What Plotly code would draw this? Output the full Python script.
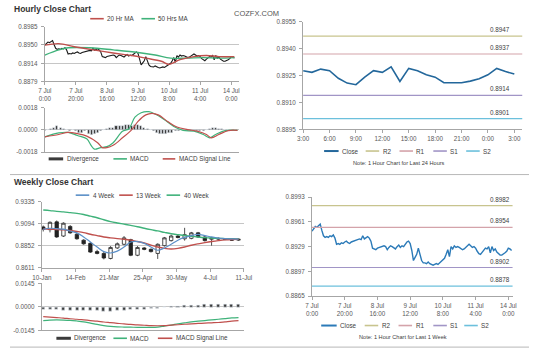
import plotly.graph_objects as go

W, H = 537, 355
FONT = "Liberation Sans, Arial, sans-serif"
TICKC = "#595959"

def px(x):
    return x / W

def py(y):
    return 1 - y / H

# ---------------- data ----------------
hour_ticks = [0, 20, 40, 60, 80, 100, 120]
hour_labels = ["7 Jul<br>0:00", "7 Jul<br>20:00", "8 Jul<br>16:00", "9 Jul<br>12:00",
               "10 Jul<br>8:00", "11 Jul<br>4:00", "14 Jul<br>0:00"]

week_close = [
    0.8949, 0.8952, 0.8955, 0.8954, 0.8956, 0.8958, 0.8950, 0.8943, 0.8941, 0.8942,
    0.8941, 0.8943, 0.8942, 0.8944, 0.8940, 0.8932, 0.8933, 0.8932, 0.8934, 0.8933,
    0.8935, 0.8936, 0.8934, 0.8933, 0.8935, 0.8936, 0.8937, 0.8937, 0.8938, 0.8939,
    0.8938, 0.8943, 0.8939, 0.8941, 0.8942, 0.8940, 0.8936, 0.8927, 0.8926, 0.8925,
    0.8927, 0.8928, 0.8929, 0.8929, 0.8930, 0.8929, 0.8925, 0.8928, 0.8930, 0.8929,
    0.8927, 0.8926, 0.8929, 0.8931, 0.8928, 0.8930, 0.8929, 0.8932, 0.8935, 0.8936,
    0.8933, 0.8924, 0.8911, 0.8915, 0.8919, 0.8927, 0.8918, 0.8911, 0.8908, 0.8908,
    0.8907, 0.8909, 0.8907, 0.8906, 0.8905, 0.8906, 0.8907, 0.8906, 0.8908, 0.8910,
    0.8911, 0.8914, 0.8919, 0.8925, 0.8916, 0.8929, 0.8926, 0.8930, 0.8928, 0.8929,
    0.8928, 0.8926, 0.8925, 0.8926, 0.8928, 0.8931, 0.8932, 0.8930, 0.8928, 0.8929,
    0.8927, 0.8923, 0.8920, 0.8919, 0.8922, 0.8925, 0.8927, 0.8926, 0.8929, 0.8921,
    0.8929, 0.8924, 0.8926, 0.8922, 0.8920, 0.8918, 0.8918, 0.8919, 0.8921, 0.8923,
    0.8927, 0.8926, 0.8924,
]
week_hours = list(range(len(week_close)))

ma20_hours = [0, 9, 19, 31, 44, 56, 65, 75, 80, 87, 96, 104, 112, 122]
ma20 = [0.8949, 0.8952, 0.8946, 0.8940, 0.8934, 0.8929, 0.8924, 0.8918, 0.8912,
        0.8921, 0.8927, 0.8929, 0.8927, 0.8927]
ma50_hours = [0, 9, 15, 29, 44, 60, 71, 81, 91, 102, 112, 122]
ma50 = [0.8930, 0.8940, 0.8944, 0.8944, 0.8940, 0.8935, 0.8930, 0.8924, 0.8924,
        0.8925, 0.8924, 0.8925]

macd_h_hours = [0, 9, 15, 21, 27, 30, 32, 36, 40, 44, 50, 54, 58, 62, 67, 71, 77, 83,
                89, 96, 102, 106, 110, 116, 124]
macd_h = [-0.00056, -0.00024, -0.0002, -0.00045, -0.00072, -0.0013, -0.00157, -0.00144,
          -0.00136, -0.00104, -0.0001, 0.00008, 0.00104, 0.00141, 0.00149, 0.0013,
          0.00083, 0.00029, -0.00003, -0.0001, -0.00037, -0.00064, -0.00037, -0.00005,
          -0.00003]
sig_h_hours = [0, 9, 15, 21, 27, 34, 37, 40, 44, 50, 56, 60, 65, 69, 73, 79, 85, 92,
               98, 104, 107, 112, 118, 124]
sig_h = [-0.00056, -0.00037, -0.0002, -0.0003, -0.0005, -0.00104, -0.00144, -0.00144,
         -0.00125, -0.00064, 0.00003, 0.0007, 0.00123, 0.00136, 0.00123, 0.0007, 0.00024,
         0.00003, -0.0001, -0.00037, -0.00064, -0.00037, -0.00005, -0.00003]
div_h_hours = list(range(0, 124, 2))
div_h = [v * 1e-4 for v in [
    -1, 0, 1, 2, 3, 2, 1, 0, -1, 0, -1, -2, -2, -1, -3, -4, -3, -2, -1, 0,
    1, 2, 2, 3, 3, 3, 4, 4, 3, 4, 4, 3, 2, 1, 0, -1, -2, -3, -3, -3,
    -2, -2, -1, -1, 0, 0, -1, -1, -1, -1, -1, -1, 0, 1, 2, 2, 1, 1, 0, 0,
    0, 0]]

day_ticks = [0, 3, 6, 9, 12, 15, 18, 21, 24]
day_labels = ["3:00", "6:00", "9:00", "12:00", "15:00", "18:00", "21:00", "0:00", "3:00"]
day_close = [0.89277, 0.89268, 0.89286, 0.89277, 0.89235, 0.89208, 0.89199, 0.89241,
             0.89277, 0.89268, 0.89299, 0.89217, 0.89290, 0.89277, 0.89254, 0.89241,
             0.89210, 0.89210, 0.89210, 0.89219, 0.89232, 0.89254, 0.89290, 0.89272,
             0.89259]
day_levels = {"R2": 0.8947, "R1": 0.8937, "S1": 0.8914, "S2": 0.8901}
wk_levels = {"R2": 0.8982, "R1": 0.8954, "S1": 0.8902, "S2": 0.8878}

weeks = list(range(30))
week_tick_labels = ["10-Jan", "14-Feb", "21-Mar", "25-Apr", "30-May", "4-Jul", "11-Jul"]
w_open = [0.9060, 0.9030, 0.9115, 0.8960, 0.9065, 0.8980, 0.8915, 0.8880, 0.8790, 0.8770,
          0.8715, 0.8830, 0.8870, 0.8920, 0.8750, 0.8830, 0.8815, 0.8770, 0.8855, 0.8910,
          0.8960, 0.8930, 0.8935, 0.8995, 0.8950, 0.8925, 0.8935, 0.8930, 0.8922, 0.8915]
w_close = [0.9035, 0.9110, 0.8950, 0.9100, 0.8995, 0.8930, 0.8875, 0.8785, 0.8770, 0.8720,
           0.8835, 0.8875, 0.8940, 0.8750, 0.8835, 0.8815, 0.8790, 0.8870, 0.8940, 0.8960,
           0.8945, 0.8975, 0.8995, 0.8950, 0.8910, 0.8940, 0.8928, 0.8922, 0.8915, 0.8925]
w_high = [0.9075, 0.9120, 0.9130, 0.9110, 0.9080, 0.8995, 0.8925, 0.8895, 0.8810, 0.8785,
          0.8850, 0.8890, 0.8960, 0.8930, 0.8850, 0.8840, 0.8825, 0.8880, 0.8950, 0.8975,
          0.8975, 0.9050, 0.9005, 0.9005, 0.8960, 0.8950, 0.8945, 0.8935, 0.8930, 0.8932]
w_low = [0.9010, 0.9000, 0.8940, 0.8950, 0.8985, 0.8920, 0.8865, 0.8775, 0.8760, 0.8705,
         0.8705, 0.8820, 0.8860, 0.8740, 0.8740, 0.8805, 0.8780, 0.8710, 0.8845, 0.8900,
         0.8935, 0.8910, 0.8925, 0.8940, 0.8900, 0.8855, 0.8920, 0.8915, 0.8908, 0.8908]
ma4w = [0.9032, 0.9045, 0.9040, 0.9035, 0.9015, 0.8995, 0.8950, 0.8895, 0.8840, 0.8790,
        0.8775, 0.8795, 0.8840, 0.8895, 0.8900, 0.8880, 0.8840, 0.8805, 0.8830, 0.8870,
        0.8915, 0.8945, 0.8965, 0.8978, 0.8965, 0.8950, 0.8938, 0.8932, 0.8928, 0.8926]
ma13w = [0.9038, 0.9035, 0.9032, 0.9028, 0.9020, 0.9010, 0.8998, 0.8980, 0.8965, 0.8950,
         0.8940, 0.8932, 0.8925, 0.8915, 0.8900, 0.8885, 0.8860, 0.8840, 0.8825, 0.8818,
         0.8825, 0.8840, 0.8860, 0.8875, 0.8888, 0.8900, 0.8910, 0.8918, 0.8922, 0.8924]
ma40w = [0.9245, 0.9238, 0.9230, 0.9224, 0.9216, 0.9208, 0.9195, 0.9177, 0.9160, 0.9138,
         0.9118, 0.9103, 0.9090, 0.9076, 0.9062, 0.9045, 0.9030, 0.9016, 0.9000, 0.8985,
         0.8975, 0.8966, 0.8958, 0.8950, 0.8943, 0.8938, 0.8934, 0.8932, 0.8930, 0.8928]
macd_w = [-0.0084, -0.0081, -0.0080, -0.0081, -0.0083, -0.0087, -0.0092, -0.0100, -0.0108,
          -0.0115, -0.0120, -0.0123, -0.0124, -0.0125, -0.0126, -0.0126, -0.0126, -0.0124,
          -0.0118, -0.0112, -0.0104, -0.0098, -0.0092, -0.0088, -0.0084, -0.0080, -0.0076,
          -0.0072, -0.0068, -0.0066]
sig_w = [-0.0060, -0.0063, -0.0066, -0.0069, -0.0073, -0.0076, -0.0080, -0.0084, -0.0088,
         -0.0093, -0.0097, -0.0101, -0.0105, -0.0108, -0.0111, -0.0113, -0.0115, -0.0116,
         -0.0115, -0.0112, -0.0110, -0.0107, -0.0104, -0.0102, -0.0100, -0.0098, -0.0096,
         -0.0092, -0.0088, -0.0085]
div_w = [-0.0018, -0.0018, -0.0018, -0.0020, -0.0020, -0.0020, -0.0022, -0.0022, -0.0024,
         -0.0026, -0.0026, -0.0024, -0.0022, -0.0018, -0.0016, -0.0014, -0.0010, -0.0008,
         -0.0004, 0.0002, 0.0006, 0.0008, 0.0010, 0.0012, 0.0014, 0.0014, 0.0016, 0.0016,
         0.0016, 0.0016]

# ---------------- styles ----------------
RED = "#c0504d"
GREEN = "#3fb27a"
BLUE4 = "#5b8fc7"
DIVC = "#3a3a3a"
CLOSE1 = "#23679b"
CLOSE2 = "#2b7ab8"
LEVC = {"R2": "#c8c48e", "R1": "#d4a3aa", "S1": "#a195c6", "S2": "#6cc0dc"}

fig = go.Figure()

# hourly price
fig.add_trace(go.Scatter(x=week_hours, y=week_close, mode="lines",
                         line=dict(color="#1a1a1a", width=1.1), xaxis="x", yaxis="y"))
fig.add_trace(go.Scatter(x=ma50_hours, y=ma50, mode="lines", line_shape="spline",
                         line=dict(color=GREEN, width=1.4), xaxis="x", yaxis="y"))
fig.add_trace(go.Scatter(x=ma20_hours, y=ma20, mode="lines", line_shape="spline",
                         line=dict(color=RED, width=1.4), xaxis="x", yaxis="y"))
# hourly macd
fig.add_trace(go.Bar(x=div_h_hours, y=div_h, marker_color=DIVC, width=1.3,
                     xaxis="x2", yaxis="y2"))
fig.add_trace(go.Scatter(x=macd_h_hours, y=macd_h, mode="lines", line_shape="spline",
                         line=dict(color=GREEN, width=1.2), xaxis="x2", yaxis="y2"))
fig.add_trace(go.Scatter(x=sig_h_hours, y=sig_h, mode="lines", line_shape="spline",
                         line=dict(color=RED, width=1.2), xaxis="x2", yaxis="y2"))
# 24h close
fig.add_trace(go.Scatter(x=list(range(len(day_close))), y=day_close, mode="lines",
                         line=dict(color=CLOSE1, width=1.6), xaxis="x3", yaxis="y3"))
# weekly candles
fig.add_trace(go.Scatter(x=weeks, y=ma40w, mode="lines", line_shape="spline",
                         line=dict(color=GREEN, width=1.4), xaxis="x4", yaxis="y4"))
fig.add_trace(go.Scatter(x=weeks, y=ma13w, mode="lines", line_shape="spline",
                         line=dict(color=RED, width=1.4), xaxis="x4", yaxis="y4"))
fig.add_trace(go.Scatter(x=weeks, y=ma4w, mode="lines", line_shape="spline",
                         line=dict(color=BLUE4, width=1.2), xaxis="x4", yaxis="y4"))
fig.add_trace(go.Candlestick(x=weeks, open=w_open, high=w_high, low=w_low, close=w_close,
                             increasing=dict(line=dict(color="#222", width=0.8), fillcolor="white"),
                             decreasing=dict(line=dict(color="#222", width=0.8), fillcolor="#222"),
                             whiskerwidth=0, xaxis="x4", yaxis="y4"))
# weekly macd
fig.add_trace(go.Bar(x=weeks, y=div_w, marker_color=DIVC, width=0.45, xaxis="x5", yaxis="y5"))
fig.add_trace(go.Scatter(x=weeks, y=macd_w, mode="lines", line_shape="spline",
                         line=dict(color=GREEN, width=1.2), xaxis="x5", yaxis="y5"))
fig.add_trace(go.Scatter(x=weeks, y=sig_w, mode="lines", line_shape="spline",
                         line=dict(color=RED, width=1.2), xaxis="x5", yaxis="y5"))
# week close
fig.add_trace(go.Scatter(x=week_hours, y=week_close, mode="lines",
                         line=dict(color=CLOSE2, width=1.4), xaxis="x6", yaxis="y6"))

tickfont = dict(family=FONT, size=6.3, color=TICKC)


def yax(y0, y1, anchor, rng, ticks, grid=True, line=True):
    return dict(domain=[py(y1), py(y0)], anchor=anchor, range=rng, tickvals=ticks,
                ticktext=[f"{t:.4f}" for t in ticks], showgrid=grid, gridcolor="#c6c6c6",
                gridwidth=1, showline=line, linecolor="#a6a6a6", linewidth=1,
                ticks="outside", ticklen=3, tickcolor="#a6a6a6", tickfont=tickfont,
                zeroline=False, fixedrange=True, ticklabelstandoff=2)


def xax(x0, x1, anchor, rng, tickvals=None, ticktext=None, show=True):
    d = dict(domain=[px(x0), px(x1)], anchor=anchor, range=rng, showgrid=False,
             showline=True, linecolor="#a6a6a6", linewidth=1, zeroline=False,
             fixedrange=True, tickfont=tickfont)
    if show:
        d.update(tickvals=tickvals, ticktext=ticktext, ticks="outside", ticklen=3,
                 tickcolor="#a6a6a6")
    else:
        d.update(showticklabels=False, ticks="")
    return d


wk_ticks = [-0.2 + 5 * k for k in range(7)]

layout = dict(
    width=W, height=H, margin=dict(l=0, r=0, t=0, b=0),
    paper_bgcolor="white", plot_bgcolor="white", showlegend=False,
    font=dict(family=FONT, size=7, color="#404040"), bargap=0, boxgap=0.28,
    xaxis=xax(36, 237, "y", [0, 125], hour_ticks, hour_labels),
    yaxis=yax(23, 79, "x", [0.8879, 0.8985], [0.8879, 0.8914, 0.8950, 0.8985]),
    xaxis2=xax(36, 237, "y2", [0, 125], show=False),
    yaxis2=yax(106, 151, "x2", [-0.0018, 0.0018], [-0.0018, 0.0, 0.0018]),
    xaxis3=xax(303.3, 530, "y3", [0, 24.9], day_ticks, day_labels),
    yaxis3=yax(18, 128, "x3", [0.8895, 0.8955], [0.8895, 0.8910, 0.8925, 0.8940, 0.8955],
               grid=False),
    xaxis4=xax(33, 242, "y4", [-0.2, 29.8], wk_ticks, week_tick_labels),
    yaxis4=yax(201.7, 269.3, "x4", [0.8611, 0.9335], [0.8611, 0.8852, 0.9094, 0.9335]),
    xaxis5=xax(33, 242, "y5", [-0.2, 29.8], show=False),
    yaxis5=yax(285, 333, "x5", [-0.0145, 0.0145], [-0.0145, 0.0, 0.0145]),
    xaxis6=xax(312.5, 520, "y6", [0, 122.6], hour_ticks, hour_labels),
    yaxis6=yax(197, 298, "x6", [0.8865, 0.8993], [0.8865, 0.8897, 0.8929, 0.8961, 0.8993],
               grid=False),
)
layout["xaxis4"]["rangeslider"] = dict(visible=False)
fig.update_layout(**layout)

shapes = []
annots = []

# reference levels
for lv, val in day_levels.items():
    shapes.append(dict(type="line", xref="x3 domain", yref="y3", x0=0, x1=1, y0=val, y1=val,
                       line=dict(color=LEVC[lv], width=1.2)))
    annots.append(dict(xref="paper", yref="y3", x=px(519), y=val, text=f"{val:.4f}",
                       showarrow=False, xanchor="right", yanchor="bottom", yshift=1,
                       font=dict(family=FONT, size=6.3, color="#404040")))
for lv, val in wk_levels.items():
    shapes.append(dict(type="line", xref="x6 domain", yref="y6", x0=0, x1=1, y0=val, y1=val,
                       line=dict(color=LEVC[lv], width=1.2)))
    annots.append(dict(xref="paper", yref="y6", x=px(519), y=val, text=f"{val:.4f}",
                       showarrow=False, xanchor="right", yanchor="bottom", yshift=1,
                       font=dict(family=FONT, size=6.3, color="#404040")))

# separators
for yy in (174, 350):
    shapes.append(dict(type="line", xref="paper", yref="paper", x0=0, x1=1, y0=py(yy), y1=py(yy),
                       line=dict(color="#b8b8b8", width=1)))


def leg(x0, x1, y, color, text, width=1.6):
    shapes.append(dict(type="line", xref="paper", yref="paper", x0=px(x0), x1=px(x1),
                       y0=py(y), y1=py(y), line=dict(color=color, width=width)))
    annots.append(dict(xref="paper", yref="paper", x=px(x1 + 1.5), y=py(y), text=text,
                       showarrow=False, xanchor="left", yanchor="middle",
                       font=dict(family=FONT, size=6.3, color="#404040")))


# legends
leg(83, 97, 15, RED, "20 Hr MA")
leg(136, 150, 15, GREEN, "50 Hrs MA")
leg(40, 55, 158, DIVC, "Divergence", width=3)
leg(107, 121, 158, GREEN, "MACD")
leg(158, 171, 158, RED, "MACD Signal Line")
leg(325, 340, 150, CLOSE1, "Close", width=2)
leg(368, 382, 150, LEVC["R2"], "R2")
leg(403, 417, 150, LEVC["R1"], "R1")
leg(438, 452, 150, LEVC["S1"], "S1")
leg(472, 486, 150, LEVC["S2"], "S2")
leg(68, 82, 195, BLUE4, "4 Week")
leg(113, 127, 195, RED, "13 Week")
leg(162, 176, 195, GREEN, "40 Week")
leg(48, 63, 341, DIVC, "Divergence", width=3)
leg(107, 121, 341, GREEN, "MACD")
leg(153, 168, 341, RED, "MACD Signal Line")
leg(322, 338, 328, CLOSE2, "Close", width=2)
leg(367, 381, 328, LEVC["R2"], "R2")
leg(402, 416, 328, LEVC["R1"], "R1")
leg(438, 452, 328, LEVC["S1"], "S1")
leg(470, 484, 328, LEVC["S2"], "S2")

# titles and notes
annots.append(dict(xref="paper", yref="paper", x=px(2), y=py(5), text="<b>Hourly Close Chart</b>",
                   showarrow=False, xanchor="left", yanchor="middle",
                   font=dict(family=FONT, size=8.5, color="#333333")))
annots.append(dict(xref="paper", yref="paper", x=px(2), y=py(182), text="<b>Weekly Close Chart</b>",
                   showarrow=False, xanchor="left", yanchor="middle",
                   font=dict(family=FONT, size=8.5, color="#333333")))
annots.append(dict(xref="paper", yref="paper", x=px(230), y=py(10), text="COZFX.COM",
                   showarrow=False, xanchor="left", yanchor="middle",
                   font=dict(family=FONT, size=7.5, color="#555555")))
annots.append(dict(xref="paper", yref="paper", x=px(402), y=py(162),
                   text="Note: 1 Hour Chart for Last 24 Hours", showarrow=False,
                   xanchor="center", yanchor="middle",
                   font=dict(family=FONT, size=5.6, color="#404040")))
annots.append(dict(xref="paper", yref="paper", x=px(407), y=py(340),
                   text="Note: 1 Hour Chart for Last 1 Week", showarrow=False,
                   xanchor="center", yanchor="middle",
                   font=dict(family=FONT, size=5.6, color="#404040")))

fig.update_layout(shapes=shapes, annotations=annots)
fig.write_html("out.html", config={"displayModeBar": False},
               post_script="document.body.style.margin='0';")
